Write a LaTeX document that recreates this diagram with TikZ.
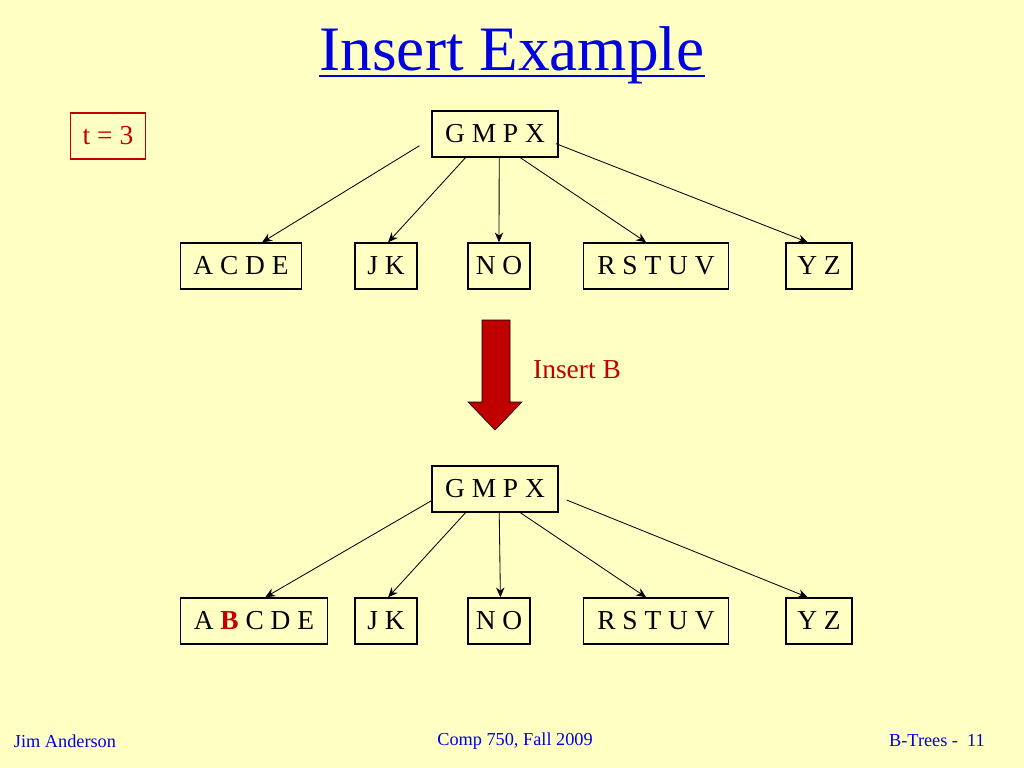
\documentclass[tikz,border=0pt]{standalone}
\usepackage{fontspec}
\setmainfont{Liberation Serif}
\usepackage{xcolor}
\usetikzlibrary{arrows.meta, positioning}
\definecolor{slidebg}{HTML}{FFFFC4}
\definecolor{titleblue}{HTML}{0000E0}
\definecolor{keyred}{HTML}{C00000}
\tikzset{
  keybox/.style={draw, line width=1pt, minimum height=46*0.025cm, inner sep=0pt, font=\fontsize{19.5}{21}\selectfont},
  link/.style={-{Stealth[length=7pt,width=6pt]}, semithick},
  footer/.style={text=titleblue, font=\fontsize{13}{15}\selectfont}
}
\begin{document}
\begin{tikzpicture}[x=0.025cm, y=-0.025cm]
    % Background
    \fill[slidebg] (0,0) rectangle (1024,768);
    \useasboundingbox (0,0) rectangle (1024,768);

    % Title
    \node[text=titleblue, font=\fontsize{45}{50}\selectfont, inner sep=0pt] (title) at (512,55) {Insert Example};
    \draw[titleblue, line width=1.5pt] ([yshift=-4]title.base west) -- ([yshift=-4]title.base east);

    % Degree
    \node[keybox, draw=keyred, text=keyred, minimum width=75*0.025cm] (deg) at (108,136) {t = 3};

    % Tree before
    \node[keybox, minimum width=126*0.025cm] (root) at (495,134) {G M P X};
    \node[keybox, minimum width=121*0.025cm] (c1) at (241,266) {A C D E};
    \node[keybox, minimum width=62*0.025cm] (c2) at (386,266) {J K};
    \node[keybox, minimum width=62*0.025cm] (c3) at (499,266) {N O};
    \node[keybox, minimum width=145*0.025cm] (c4) at (656,266) {R S T U V};
    \node[keybox, minimum width=66*0.025cm] (c5) at (819,266) {Y Z};
    \draw[link] ([xshift=-8.5,yshift=8.5]root.south west) -- ([xshift=15]c1.north);
    \draw[link] ([xshift=-21]root.south) -- ([xshift=1.5]c2.north);
    \draw[link] ([xshift=3]root.south) -- (c3.north);
    \draw[link] ([xshift=18]root.south) -- ([xshift=-7]c4.north);
    \draw[link] ([xshift=-2,yshift=10]root.south east) -- ([xshift=-8]c5.north);

    % Step arrow
    \draw[fill=keyred] (482,320) -- (510,320) -- (510,402) -- (522,402) -- (495,430)
        -- (468,402) -- (482,402) -- cycle;
    \node[text=keyred, font=\fontsize{19.5}{21}\selectfont] (lbl) at (577,370) {Insert B};

    % Tree after
    \node[keybox, minimum width=126*0.025cm] (rootB) at (495,489) {G M P X};
    \node[keybox, minimum width=147*0.025cm] (d1) at (254,621) {A \textcolor{keyred}{\textbf{B}} C D E};
    \node[keybox, minimum width=62*0.025cm] (d2) at (386,621) {J K};
    \node[keybox, minimum width=62*0.025cm] (d3) at (499,621) {N O};
    \node[keybox, minimum width=145*0.025cm] (d4) at (656,621) {R S T U V};
    \node[keybox, minimum width=66*0.025cm] (d5) at (819,621) {Y Z};
    \draw[link] ([yshift=8.5]rootB.south west) -- ([xshift=8]d1.north);
    \draw[link] ([xshift=-21]rootB.south) -- ([xshift=1.5]d2.north);
    \draw[link] ([xshift=3]rootB.south) -- ([xshift=1]d3.north);
    \draw[link] ([xshift=18]rootB.south) -- ([xshift=-7]d4.north);
    \draw[link] ([xshift=5.7,yshift=9]rootB.south east) -- ([xshift=-8]d5.north);

    % Footer
    \node[footer] (fl) at (65,741) {Jim Anderson};
    \node[footer] (fc) at (515,741) {Comp 750, Fall 2009};
    \node[footer] (fr) at (937,741) {B-Trees -\ \ 11};
\end{tikzpicture}
\end{document}
